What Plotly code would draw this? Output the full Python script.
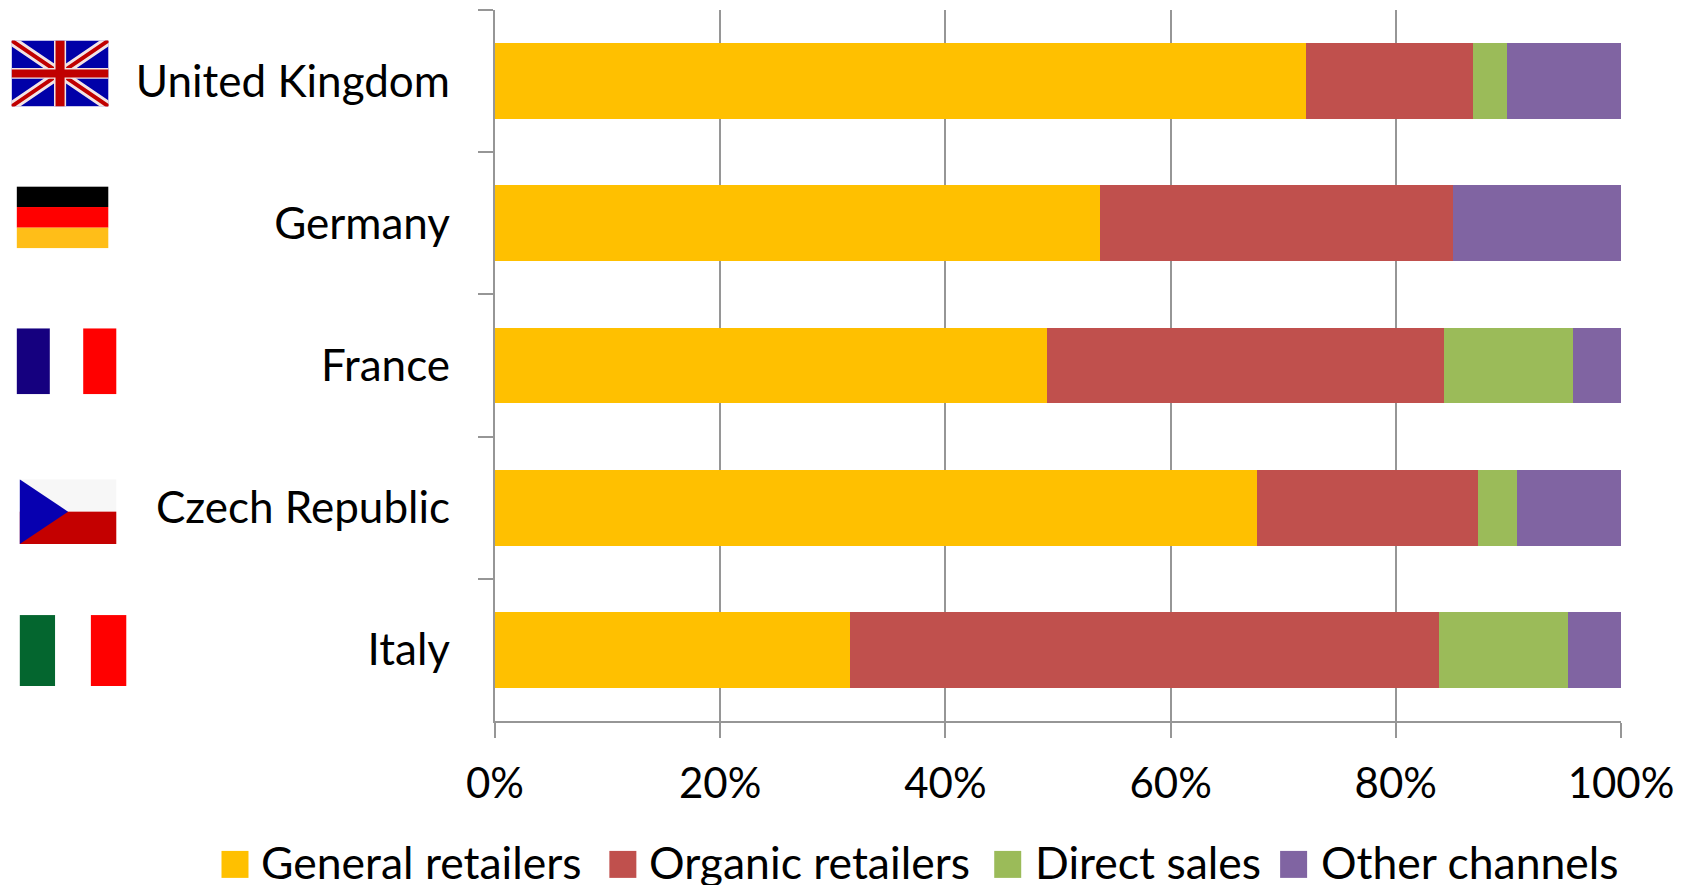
import base64
import plotly.graph_objects as go

countries = ["United Kingdom", "Germany", "France", "Czech Republic", "Italy"]
general_retailers = [72.0, 53.7, 49.0, 67.7, 31.5]
organic_retailers = [14.9, 31.4, 35.3, 19.6, 52.3]
direct_sales = [3.0, 0.0, 11.4, 3.5, 11.5]
other_channels = [10.1, 14.9, 4.3, 9.2, 4.7]
x_ticks = [0, 20, 40, 60, 80, 100]
x_tick_labels = ["0%", "20%", "40%", "60%", "80%", "100%"]

series = [
    ("General retailers", general_retailers, "#FFC000", 221, 259),
    ("Organic retailers", organic_retailers, "#C0504D", 609, 647),
    ("Direct sales", direct_sales, "#9BBB59", 994, 1033),
    ("Other channels", other_channels, "#8064A2", 1280, 1319),
]

WIDTH, HEIGHT = 1688, 885
LEFT, RIGHT, TOP, BOTTOM = 494.6, 1621.0, 9.5, 721
AXIS_COLOR = "#969696"
FONT = "Lato, Carlito, Calibri, sans-serif"


def px_x(x):
    return (x - LEFT) / (RIGHT - LEFT)


def px_y(y):
    return (BOTTOM - y) / (BOTTOM - TOP)


def svg_uri(w, h, body):
    svg = (f'<svg xmlns="http://www.w3.org/2000/svg" viewBox="0 0 {w} {h}" '
           f'width="{w}" height="{h}" preserveAspectRatio="none">{body}</svg>')
    return "data:image/svg+xml;base64," + base64.b64encode(svg.encode()).decode()


flag_uk = svg_uri(60, 40, (
    '<rect width="60" height="40" fill="#0000A8"/>'
    '<path d="M0,0L60,40M60,0L0,40" stroke="#F2E4E4" stroke-width="6"/>'
    '<path d="M0,0L60,40M60,0L0,40" stroke="#C00000" stroke-width="2.4"/>'
    '<path d="M30,0V40" stroke="#F2E4E4" stroke-width="7.5"/>'
    '<path d="M0,20H60" stroke="#F2E4E4" stroke-width="6.5"/>'
    '<path d="M30,0V40" stroke="#C00000" stroke-width="5.6"/>'
    '<path d="M0,20H60" stroke="#C00000" stroke-width="4.8"/>'
))
flag_de = svg_uri(3, 3, (
    '<rect width="3" height="1" fill="#000000"/>'
    '<rect y="1" width="3" height="1" fill="#FF0000"/>'
    '<rect y="2" width="3" height="1" fill="#FFBE18"/>'
))
flag_fr = svg_uri(3, 2, (
    '<rect width="1" height="2" fill="#15007F"/>'
    '<rect x="1" width="1" height="2" fill="#FFFFFF"/>'
    '<rect x="2" width="1" height="2" fill="#FF0000"/>'
))
flag_cz = svg_uri(60, 40, (
    '<rect width="60" height="20" fill="#F7F7F7"/>'
    '<rect y="20" width="60" height="20" fill="#C40000"/>'
    '<path d="M0,0L30,20L0,40Z" fill="#0700B0"/>'
))
flag_it = svg_uri(3, 2, (
    '<rect width="1" height="2" fill="#04662F"/>'
    '<rect x="1" width="1" height="2" fill="#FFFFFF"/>'
    '<rect x="2" width="1" height="2" fill="#FF0000"/>'
))

# Flag artwork placed beside each country label: (image, left, top, right, bottom) in pixels
flags = [
    (flag_uk, 11, 40, 108, 106),
    (flag_de, 16, 186, 108, 248),
    (flag_fr, 16, 328, 116, 394),
    (flag_cz, 19, 479, 116, 544),
    (flag_it, 19, 615, 126, 686),
]

fig = go.Figure()
for name, values, color, _, _ in series:
    fig.add_trace(go.Bar(
        y=countries, x=values, name=name, orientation="h",
        marker=dict(color=color, line=dict(width=0)), showlegend=False,
    ))

images = [
    dict(source=src, xref="paper", yref="paper", xanchor="left", yanchor="top",
         x=px_x(x0), y=px_y(y0), sizex=(x1 - x0) / (RIGHT - LEFT),
         sizey=(y1 - y0) / (BOTTOM - TOP), sizing="stretch", layer="above")
    for src, x0, y0, x1, y1 in flags
]

# Legend row drawn below the axis with larger swatches than the built-in legend allows
shapes, annotations = [], []
for name, _, color, swatch_x, text_x in series:
    shapes.append(dict(type="rect", xref="paper", yref="paper",
                       x0=px_x(swatch_x), x1=px_x(swatch_x + 27),
                       y0=px_y(851), y1=px_y(878),
                       fillcolor=color, line=dict(width=0)))
    annotations.append(dict(text=name, xref="paper", yref="paper",
                            x=px_x(text_x), y=px_y(862), xanchor="left", yanchor="middle",
                            showarrow=False, font=dict(family=FONT, size=44.5, color="#000000")))

fig.update_layout(
    width=WIDTH, height=HEIGHT, autosize=False,
    margin=dict(l=LEFT, r=WIDTH - RIGHT, t=TOP, b=HEIGHT - BOTTOM, pad=0),
    paper_bgcolor="#FFFFFF", plot_bgcolor="#FFFFFF",
    barmode="stack", bargap=0.467,
    font=dict(family=FONT, size=44, color="#000000"),
    images=images, shapes=shapes, annotations=annotations,
    xaxis=dict(
        range=[0, 100], tickvals=x_ticks, ticktext=x_tick_labels,
        tickfont=dict(size=42),
        showgrid=True, gridcolor=AXIS_COLOR, gridwidth=2.4, zeroline=False,
        showline=True, linecolor=AXIS_COLOR, linewidth=2.4,
        ticks="outside", ticklen=15, tickwidth=2.4, tickcolor=AXIS_COLOR,
        ticklabelstandoff=9,
    ),
    yaxis=dict(
        autorange="reversed", type="category", tickson="boundaries",
        tickfont=dict(size=44),
        showgrid=False, zeroline=False,
        showline=True, linecolor=AXIS_COLOR, linewidth=2.4,
        ticks="outside", ticklen=15, tickwidth=2.4, tickcolor=AXIS_COLOR,
        ticklabelstandoff=34,
    ),
)

fig.write_html("out.html")
